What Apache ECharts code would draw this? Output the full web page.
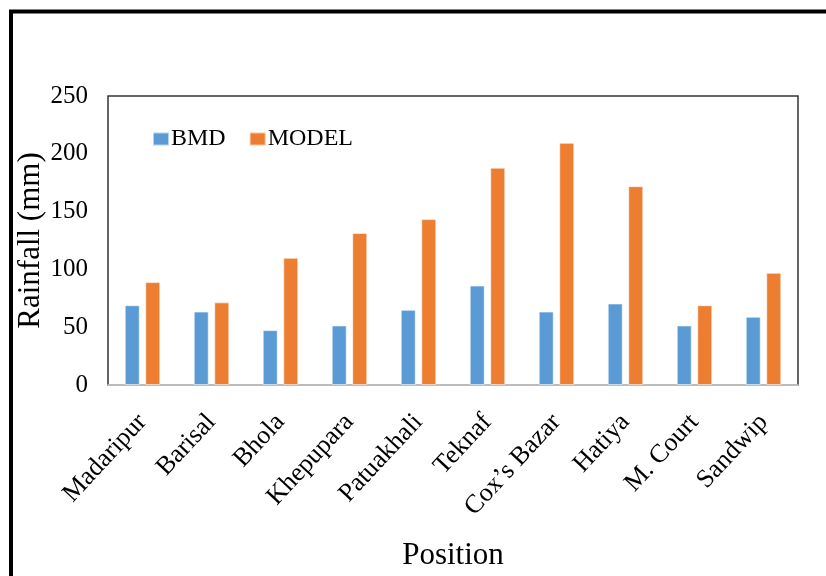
<!DOCTYPE html>
<html>
<head>
<meta charset="utf-8">
<script src="https://cdn.jsdelivr.net/npm/echarts@6/dist/echarts.min.js"></script>
<style>
html,body{margin:0;padding:0;background:#fff;}
#chart{width:826px;height:576px;}
</style>
</head>
<body>
<div id="chart"></div>
<script>
const categories = ['Madaripur','Barisal','Bhola','Khepupara','Patuakhali','Teknaf','Cox\u2019s Bazar','Hatiya','M. Court','Sandwip'];
const bmdValues = [69, 63.5, 47.5, 51.5, 65, 86, 63.5, 70.5, 51.5, 59];
const modelValues = [89, 71.5, 110, 131.5, 143.5, 188, 209.5, 172, 69, 97];
const yTicks = [0, 50, 100, 150, 200, 250];

const serif = '"Liberation Serif", "Times New Roman", serif';
const chart = echarts.init(document.getElementById('chart'), null, {renderer: 'canvas'});
chart.setOption({
  backgroundColor: '#ffffff',
  animation: false,
  graphic: [{
    type: 'polyline',
    shape: {points: [[11, 580], [11, 11.5], [830, 11.5]]},
    style: {stroke: '#000', lineWidth: 4, fill: null},
    z: 100
  }],
  grid: {
    left: 108, right: 28, top: 96, bottom: 190,
    show: true, borderColor: '#333', borderWidth: 1.5, backgroundColor: 'transparent'
  },
  legend: {
    left: 147, top: 122,
    itemWidth: 16, itemHeight: 13, itemGap: 23,
    icon: 'rect',
    textStyle: {fontFamily: serif, fontSize: 24, color: '#000', padding: [0,0,0,-3]},
    data: ['BMD', 'MODEL']
  },
  xAxis: {
    type: 'category',
    data: categories,
    name: 'Position',
    nameLocation: 'middle',
    nameMoveOverlap: false,
    nameGap: 155,
    nameTextStyle: {fontFamily: serif, fontSize: 31, color: '#000'},
    axisLine: {show: true, lineStyle: {color: '#d9d9d9', width: 1.5}},
    axisTick: {show: false},
    axisLabel: {rotate: 47, fontFamily: serif, fontSize: 26, color: '#000', margin: 33, interval: 0}
  },
  yAxis: {
    type: 'value',
    min: yTicks[0], max: yTicks[yTicks.length - 1], interval: 50,
    name: 'Rainfall (mm)',
    nameLocation: 'middle',
    nameMoveOverlap: false,
    nameGap: 62,
    nameTextStyle: {fontFamily: serif, fontSize: 31, color: '#000'},
    axisLine: {show: false},
    axisTick: {show: false},
    splitLine: {show: false},
    axisLabel: {fontFamily: serif, fontSize: 25, color: '#000', margin: 20}
  },
  series: [
    {
      name: 'BMD', type: 'bar', data: bmdValues,
      barWidth: 15, barGap: '37%',
      itemStyle: {color: '#5B9BD5', borderColor: 'rgba(255,255,255,0.55)', borderWidth: 1}
    },
    {
      name: 'MODEL', type: 'bar', data: modelValues,
      barWidth: 15,
      itemStyle: {color: '#ED7D31', borderColor: 'rgba(255,255,255,0.55)', borderWidth: 1}
    }
  ]
});
</script>
</body>
</html>
